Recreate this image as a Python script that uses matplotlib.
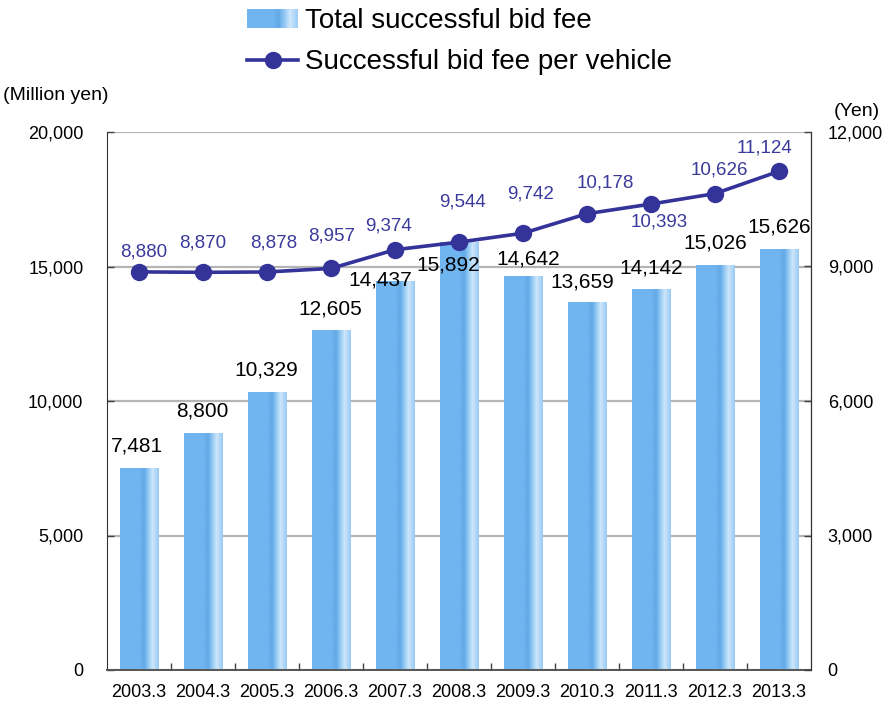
import numpy as np
import matplotlib
matplotlib.use("Agg")
import matplotlib.pyplot as plt
from matplotlib.colors import LinearSegmentedColormap
from matplotlib.patches import Rectangle
from matplotlib.lines import Line2D
from matplotlib.legend_handler import HandlerBase

plt.rcParams['font.family'] = ['Liberation Sans', 'DejaVu Sans']

# ---- data ----
years = ["2003.3", "2004.3", "2005.3", "2006.3", "2007.3", "2008.3",
         "2009.3", "2010.3", "2011.3", "2012.3", "2013.3"]
total_fee = [7481, 8800, 10329, 12605, 14437, 15892, 14642, 13659, 14142, 15026, 15626]
fee_per_vehicle = [8880, 8870, 8878, 8957, 9374, 9544, 9742, 10178, 10393, 10626, 11124]

# label offsets in pixels (dx, dy up) relative to bar top / marker centre
bar_lab_off = [(-2, 23), (-1, 22), (-1, 22), (-1, 22), (-15, 2), (-11, -22),
               (5, 17), (-5, 21), (0, 22), (0, 23), (0, 23)]
line_lab_off = [(5, 20), (0, 29), (7, 29), (1, 32), (-6, 24), (4, 40),
                (8, 39), (18, 31), (8, -18), (4, 24), (-15, 23)]

bar_cmap = LinearSegmentedColormap.from_list(
    "barg",
    [(0.0, "#70b5ef"), (0.5, "#70b5ef"), (0.62, "#62a9e7"),
     (0.72, "#8ec6f3"), (0.84, "#cde6fb"), (1.0, "#98cbf5")])
line_color = "#333399"

fig = plt.figure(figsize=(8.94, 7.07), dpi=100)
ax = fig.add_axes([107/894, 1-670/707, (811-107)/894, (670-132)/707])
ax2 = ax.twinx()

x = np.arange(len(years))
bars = ax.bar(x, total_fee, width=0.6, facecolor="none", edgecolor="none", zorder=2)
grad = np.linspace(0, 1, 200).reshape(1, -1)
for r in bars:
    x0 = r.get_x(); w = r.get_width(); h = r.get_height()
    ax.imshow(grad, extent=[x0, x0 + w, 0, h], aspect='auto', cmap=bar_cmap,
              zorder=2, interpolation='bilinear')

ax.set_xlim(-0.5, len(years) - 0.5)
ax.set_ylim(0, 20000)
ax.set_yticks(np.arange(0, 20001, 5000))
ax.set_yticklabels([f"{v:,}" for v in range(0, 20001, 5000)])
ax.yaxis.grid(True, color="#b5b5b5", linewidth=1.6, zorder=0)
ax.set_axisbelow(True)

ax.set_xticks(x)
ax.set_xticklabels(years)
ax.set_xticks(np.arange(0.5, len(years) - 0.5, 1), minor=True)
ax.tick_params(axis='x', which='major', length=0, pad=10, labelsize=13)
ax.tick_params(axis='x', which='minor', direction='in', length=5, width=1, color='#404040')
ax.tick_params(axis='y', direction='in', length=5, width=1, pad=17, labelsize=13, color='#404040')

for s in ['top']:
    ax.spines[s].set_visible(False)
    ax2.spines[s].set_visible(False)
ax.spines['left'].set_color('#333333')
ax.spines['bottom'].set_color('#555555')
ax.spines['bottom'].set_linewidth(1.4)
ax2.spines['right'].set_color('#333333')
ax2.spines['left'].set_visible(False)
ax2.spines['bottom'].set_visible(False)

for i, v in enumerate(total_fee):
    dx, dy = bar_lab_off[i]
    ax.annotate(f"{v:,}", (x[i], v), xytext=(dx, dy), textcoords='offset pixels',
                ha='center', va='center', fontsize=15, color='black', zorder=5)

ax2.plot(x, fee_per_vehicle, color=line_color, linewidth=2.6, marker='o',
         markersize=11.5, markerfacecolor=line_color, markeredgecolor=line_color, zorder=4)
ax2.set_ylim(0, 12000)
ax2.set_yticks(np.arange(0, 12001, 3000))
ax2.set_yticklabels([f"{v:,}" for v in range(0, 12001, 3000)])
ax2.tick_params(axis='y', direction='in', length=5, width=1, pad=12, labelsize=13, color='#404040')
for i, v in enumerate(fee_per_vehicle):
    dx, dy = line_lab_off[i]
    ax2.annotate(f"{v:,}", (x[i], v), xytext=(dx, dy), textcoords='offset pixels',
                 ha='center', va='center', fontsize=13.5, color='#3a3a9c', zorder=5)

fig.text(3/894, 1 - 95/707, "(Million yen)", ha='left', va='center', fontsize=14)
fig.text(857/894, 1 - 111/707, "(Yen)", ha='center', va='center', fontsize=14)


class GradHandler(HandlerBase):
    def create_artists(self, legend, orig_handle, xdescent, ydescent, width, height,
                       fontsize, trans):
        arts = []
        n = 60
        for i in range(n):
            c = bar_cmap((i + 0.5) / n)
            arts.append(Rectangle((-xdescent + width * i / n, -ydescent), width / n * 1.1,
                                  height, facecolor=c, edgecolor='none', transform=trans))
        return arts


bar_handle = Rectangle((0, 0), 1, 1)
line_handle = Line2D([], [], color=line_color, linewidth=2.6, marker='o', markersize=11.5)
fig.legend([bar_handle, line_handle],
           ["Total successful bid fee", "Successful bid fee per vehicle"],
           handler_map={Rectangle: GradHandler()},
           loc='upper left', bbox_to_anchor=(247/894, 1 - 8/707), frameon=False,
           fontsize=20, handlelength=1.85, handletextpad=0.25, labelspacing=0.55,
           borderpad=0, borderaxespad=0)

fig.savefig("out.png", dpi=100)
